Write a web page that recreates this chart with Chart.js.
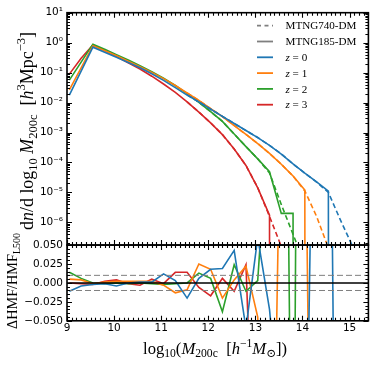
<!DOCTYPE html>
<html><head><meta charset="utf-8">
<script src="https://cdn.jsdelivr.net/npm/chart.js@4.4.0/dist/chart.umd.min.js"></script>
<style>html,body{margin:0;padding:0;background:#fff;}canvas{display:block;}</style>
</head><body>
<canvas id="c" width="374" height="365"></canvas>
<script>
// ---- data ----
const massBins = [9.05, 9.30, 9.55, 9.80, 10.05, 10.30, 10.55, 10.80, 11.05, 11.30, 11.55, 11.80, 12.05, 12.30, 12.55, 12.80, 13.05, 13.30, 13.55, 13.80, 14.05, 14.30, 14.55, 14.80, 15.05, 15.30];
const redshifts = [0, 1, 2, 3];
const seriesColors = ['#1f77b4', '#ff7f0e', '#2ca02c', '#d62728'];

// MTNG185-DM (solid); 0 = empty bin
const hmf185_z0 = [0.0178, 0.112, 0.708, 0.479, 0.324, 0.219, 0.145, 0.0912, 0.0550, 0.0316, 0.0178, 0.0105, 6.03e-3, 3.47e-3, 2.00e-3, 1.17e-3, 6.76e-4, 3.72e-4, 1.91e-4, 8.91e-5, 4.37e-5, 2.24e-5, 1.10e-5, 0, null, null];
const hmf185_z1 = [0.0263, 0.145, 0.794, 0.537, 0.363, 0.240, 0.158, 0.102, 0.0631, 0.0372, 0.0209, 0.0117, 6.31e-3, 3.39e-3, 1.70e-3, 8.71e-4, 4.27e-4, 2.00e-4, 8.71e-5, 3.55e-5, 1.20e-5, 0, null, null, null, null];
const hmf185_z2 = [0.0562, 0.224, 0.891, 0.603, 0.398, 0.263, 0.170, 0.107, 0.0646, 0.0372, 0.0200, 0.0102, 5.01e-3, 2.34e-3, 8.91e-4, 3.39e-4, 1.32e-4, 4.90e-5, 2.00e-6, 2.00e-6, 0, null, null, null, null, null];
const hmf185_z3 = [0.0891, 0.302, 0.832, 0.550, 0.347, 0.214, 0.132, 0.0759, 0.0417, 0.0219, 0.0105, 4.79e-3, 2.09e-3, 8.51e-4, 2.82e-4, 7.94e-5, 1.41e-5, 1.74e-6, 0, null, null, null, null, null, null, null];

// MTNG740-DM (dashed)
const hmf740_z0 = [null, null, null, null, null, null, null, null, null, null, 0.0180, 0.0104, 6.0e-3, 3.45e-3, 2.02e-3, 1.16e-3, 6.8e-4, 3.7e-4, 1.93e-4, 8.8e-5, 4.4e-5, 2.2e-5, 1.0e-5, 1.26e-6, 1.78e-7, 2.5e-8];
const hmf740_z1 = [null, null, null, null, null, null, null, null, null, null, 0.0210, 0.0117, 6.3e-3, 3.4e-3, 1.72e-3, 8.6e-4, 4.3e-4, 2.0e-4, 8.8e-5, 3.5e-5, 1.12e-5, 1.58e-6, 1.41e-7, null, null, null];
const hmf740_z2 = [null, null, null, null, null, null, null, null, null, null, 0.0200, 0.0102, 5.0e-3, 2.35e-3, 8.9e-4, 3.4e-4, 1.32e-4, 4.47e-5, 3.98e-6, 3.98e-7, 3.98e-8, null, null, null, null, null];
const hmf740_z3 = [null, null, null, null, null, null, null, null, null, null, 0.0105, 4.8e-3, 2.1e-3, 8.5e-4, 2.8e-4, 7.9e-5, 1.45e-5, 1.58e-6, 1.58e-7, null, null, null, null, null, null, null];

// ΔHMF/HMF_L500 (lower panel)
const ratio_z0 = [-0.011, -0.004, -0.002, -0.001, -0.004, 0.000, 0.001, 0.001, 0.012, 0.003, -0.020, 0.006, 0.018, 0.019, 0.043, -0.060, 0.060, -0.035, -0.200, -0.300, -0.400, 0.600, 0.600, -1.000];
const ratio_z1 = [0.005, 0.004, -0.001, 0.001, 0.002, 0.002, 0.002, 0.002, -0.003, -0.013, -0.009, 0.025, 0.018, -0.020, 0.004, 0.022, -0.045, -0.600, 0.300, 0.400, 0.300, -1.000];
const ratio_z2 = [0.014, 0.006, 0.000, -0.001, 0.000, -0.001, 0.000, -0.001, -0.002, -0.001, 0.000, 0.013, 0.006, -0.038, 0.024, -0.011, 0.003, 0.240, 1.000, -0.500, 2.000];
const ratio_z3 = [0.000, -0.001, -0.002, 0.002, 0.004, -0.001, -0.003, 0.005, -0.001, 0.014, 0.014, -0.006, -0.017, 0.006, -0.011, 0.024, -0.400, -1.000];

// axes
const xRange = [9, 15.4];
const hmfRange = [1.75e-7, 10];
const ratioRange = [-0.05, 0.05];
const xTickValues = [9, 10, 11, 12, 13, 14, 15];
const hmfTickValues = [1e-6, 1e-5, 1e-4, 1e-3, 1e-2, 1e-1, 1, 10];
const ratioTickValues = [-0.05, -0.025, 0, 0.025, 0.05];
const ratioZeroLevel = 0;
const ratioBandLevels = [0.01, -0.01];
const simLabels = ['MTNG740-DM', 'MTNG185-DM'];

const hmf185 = [hmf185_z0, hmf185_z1, hmf185_z2, hmf185_z3];
const hmf740 = [hmf740_z0, hmf740_z1, hmf740_z2, hmf740_z3];
const ratios = [ratio_z0, ratio_z1, ratio_z2, ratio_z3];

// empty bins are clipped to a tiny value (as a log axis with clipping does)
function toPoints(arr) {
  const pts = [];
  arr.forEach((v, i) => { if (v !== null) pts.push({x: massBins[i], y: v === 0 ? 1e-300 : v}); });
  return pts;
}

const datasets = [];
redshifts.forEach((z, k) => {
  datasets.push({label: simLabels[1] + ' z=' + z, data: toPoints(hmf185[k]), borderColor: seriesColors[k], borderWidth: 1.6, yAxisID: 'y', xAxisID: 'x'});
  datasets.push({label: simLabels[0] + ' z=' + z, data: toPoints(hmf740[k]), borderColor: seriesColors[k], borderWidth: 1.6, borderDash: [5, 3], yAxisID: 'y', xAxisID: 'x'});
});
datasets.push({label: 'zero', data: [{x: xRange[0], y: ratioZeroLevel}, {x: xRange[1], y: ratioZeroLevel}], borderColor: '#000', borderWidth: 1.5, yAxisID: 'yr', xAxisID: 'x'});
ratioBandLevels.forEach(l => datasets.push({label: 'band', data: [{x: xRange[0], y: l}, {x: xRange[1], y: l}], borderColor: '#7f7f7f', borderWidth: 1, borderDash: [6, 3], yAxisID: 'yr', xAxisID: 'x'}));
redshifts.forEach((z, k) => {
  datasets.push({label: 'ratio z=' + z, data: toPoints(ratios[k]), borderColor: seriesColors[k], borderWidth: 1.6, yAxisID: 'yr', xAxisID: 'x'});
});

const SUP = {'0':'⁰','1':'¹','2':'²','3':'³','4':'⁴','5':'⁵','6':'⁶','7':'⁷','8':'⁸','9':'⁹','-':'⁻'};
const tickFont = {family: 'DejaVu Sans', size: 10.5};
const SERIF = '"Liberation Serif", "DejaVu Serif", serif';

function drawMath(ctx, segs, o) {
  const measure = (size) => segs.map(s => {
    const small = s.sub || s.sup;
    const fs = small ? size * 0.7 : size;
    const font = (s.i ? 'italic ' : '') + fs.toFixed(2) + 'px ' + SERIF;
    ctx.font = font;
    return {t: s.t, font, w: ctx.measureText(s.t).width, dy: s.sub ? size * 0.22 : (s.sup ? -size * 0.42 : 0)};
  });
  let size = o.size || 10;
  let parts = measure(size);
  let total = parts.reduce((a, p) => a + p.w, 0);
  if (o.target) { size = size * o.target / total; parts = measure(size); total = parts.reduce((a, p) => a + p.w, 0); }
  ctx.save();
  ctx.translate(o.x, o.y);
  if (o.rot) ctx.rotate(o.rot);
  ctx.fillStyle = o.color || '#000';
  ctx.textBaseline = 'alphabetic';
  ctx.textAlign = 'left';
  let x = o.align === 'left' ? 0 : -total / 2;
  parts.forEach(p => { ctx.font = p.font; ctx.fillText(p.t, x, (o.baseline || 0) + p.dy); x += p.w; });
  ctx.restore();
  return size;
}

const panelPlugin = {
  id: 'panels',
  beforeDatasetDraw(chart, args) {
    const ds = chart.data.datasets[args.index];
    const ys = chart.scales[ds.yAxisID];
    const ca = chart.chartArea;
    const ctx = chart.ctx;
    ctx.save();
    ctx.beginPath();
    ctx.rect(ca.left, ys.top, ca.right - ca.left, ys.bottom - ys.top);
    ctx.clip();
  },
  afterDatasetDraw(chart) { chart.ctx.restore(); },
  afterDraw(chart) {
    const ctx = chart.ctx, ca = chart.chartArea, sx = chart.scales.x;
    const MAJ = 5, MIN = 3;
    ctx.save();
    ctx.strokeStyle = '#000';
    ctx.lineWidth = 1.1;
    const xMinor = [];
    for (let k = Math.ceil(xRange[0] * 10); k <= Math.floor(xRange[1] * 10); k++) if (k % 10) xMinor.push(k / 10);
    [chart.scales.y, chart.scales.yr].forEach(ps => {
      const top = ps.top, bot = ps.bottom;
      let yMaj, yMin = [];
      if (ps.id === 'y') {
        yMaj = hmfTickValues;
        for (let e = -7; e <= 1; e++) for (let m = 2; m <= 9; m++) { const v = m * Math.pow(10, e); if (v >= hmfRange[0] && v <= hmfRange[1]) yMin.push(v); }
      } else {
        yMaj = ratioTickValues;
        for (let k = -10; k <= 10; k++) if (k % 5) yMin.push(k * 0.005);
      }
      ctx.beginPath();
      const xt = (v, len) => { const p = Math.round(sx.getPixelForValue(v)) + 0.5; ctx.moveTo(p, bot); ctx.lineTo(p, bot - len); ctx.moveTo(p, top); ctx.lineTo(p, top + len); };
      const yt = (v, len) => { const p = Math.round(ps.getPixelForValue(v)) + 0.5; ctx.moveTo(ca.left, p); ctx.lineTo(ca.left + len, p); ctx.moveTo(ca.right, p); ctx.lineTo(ca.right - len, p); };
      xTickValues.forEach(v => xt(v, MAJ));
      xMinor.forEach(v => xt(v, MIN));
      yMaj.forEach(v => yt(v, MAJ));
      yMin.forEach(v => yt(v, MIN));
      ctx.stroke();
    });
    ctx.lineWidth = 1.6;
    [chart.scales.y, chart.scales.yr].forEach(ps => ctx.strokeRect(ca.left, ps.top, ca.right - ca.left, ps.bottom - ps.top));
    ctx.restore();

    // axis titles
    drawMath(ctx, [{t: 'd'}, {t: 'n', i: 1}, {t: '/d log'}, {t: '10', sub: 1}, {t: ' '}, {t: 'M', i: 1}, {t: '200c', sub: 1}, {t: '  ['}, {t: 'h', i: 1}, {t: '3', sup: 1}, {t: 'Mpc'}, {t: '−3', sup: 1}, {t: ']'}],
      {x: 28, y: 131, rot: -Math.PI / 2, target: 198, baseline: 5});
    drawMath(ctx, [{t: 'ΔHMF/HMF'}, {t: 'L500', sub: 1}], {x: 12, y: 281, rot: -Math.PI / 2, target: 96, baseline: 5});
    drawMath(ctx, [{t: 'log'}, {t: '10', sub: 1}, {t: '('}, {t: 'M', i: 1}, {t: '200c', sub: 1}, {t: '  ['}, {t: 'h', i: 1}, {t: '−1', sup: 1}, {t: 'M', i: 1}, {t: '⊙', sub: 1}, {t: '])'}],
      {x: 215, y: 353.5, target: 144});

    // legend
    const lx0 = 257, lx1 = 273, tx = 285.5, y0 = 25.7, dy = 15.8;
    let fs = 11.5;
    ctx.font = fs + 'px ' + SERIF;
    fs = fs * 71 / ctx.measureText(simLabels[0]).width;
    const entries = [
      {color: '#7f7f7f', dash: [4, 3.5], segs: [{t: simLabels[0]}]},
      {color: '#7f7f7f', dash: [], segs: [{t: simLabels[1]}]}
    ];
    redshifts.forEach((z, k) => entries.push({color: seriesColors[k], dash: [], segs: [{t: 'z', i: 1}, {t: ' = ' + z}]}));
    entries.forEach((e, k) => {
      const yc = y0 + k * dy;
      ctx.save();
      ctx.strokeStyle = e.color; ctx.lineWidth = 1.8; ctx.setLineDash(e.dash);
      ctx.beginPath(); ctx.moveTo(lx0, yc); ctx.lineTo(lx1, yc); ctx.stroke();
      ctx.restore();
      drawMath(ctx, e.segs, {x: tx, y: yc, size: fs, align: 'left', baseline: fs * 0.33});
    });
  }
};

new Chart(document.getElementById('c'), {
  type: 'line',
  data: {datasets},
  options: {
    responsive: false,
    animation: false,
    devicePixelRatio: 1,
    layout: {padding: {top: 12.7, right: 374 - 368.4, left: 0, bottom: 0}},
    elements: {point: {radius: 0}, line: {tension: 0, fill: false}},
    plugins: {legend: {display: false}, tooltip: {enabled: false}},
    scales: {
      x: {
        type: 'linear', min: xRange[0], max: xRange[1],
        afterBuildTicks: s => { s.ticks = xTickValues.map(v => ({value: v})); },
        afterFit: s => { s.height = 365 - 320.8; },
        grid: {display: false, drawTicks: false}, border: {display: false},
        ticks: {font: tickFont, color: '#000', padding: 1, maxRotation: 0, autoSkip: false, callback: v => String(v)}
      },
      yr: {
        type: 'linear', position: 'left', stack: 'panels', stackWeight: 75.8,
        min: ratioRange[0], max: ratioRange[1],
        afterBuildTicks: s => { s.ticks = ratioTickValues.map(v => ({value: v})); },
        afterFit: s => { s.width = 67; },
        grid: {display: false, drawTicks: false}, border: {display: false},
        ticks: {font: tickFont, color: '#000', padding: 4, autoSkip: false, callback: v => v.toFixed(3).replace('-', '−')}
      },
      y: {
        type: 'logarithmic', position: 'left', stack: 'panels', stackWeight: 232.5,
        min: hmfRange[0], max: hmfRange[1],
        afterBuildTicks: s => { s.ticks = hmfTickValues.map(v => ({value: v})); },
        afterFit: s => { s.width = 67; },
        grid: {display: false, drawTicks: false}, border: {display: false},
        ticks: {font: tickFont, color: '#000', padding: 4, autoSkip: false,
          callback: v => '10' + String(Math.round(Math.log10(v))).split('').map(c => SUP[c]).join('')}
      }
    }
  },
  plugins: [panelPlugin]
});
</script>
</body></html>
